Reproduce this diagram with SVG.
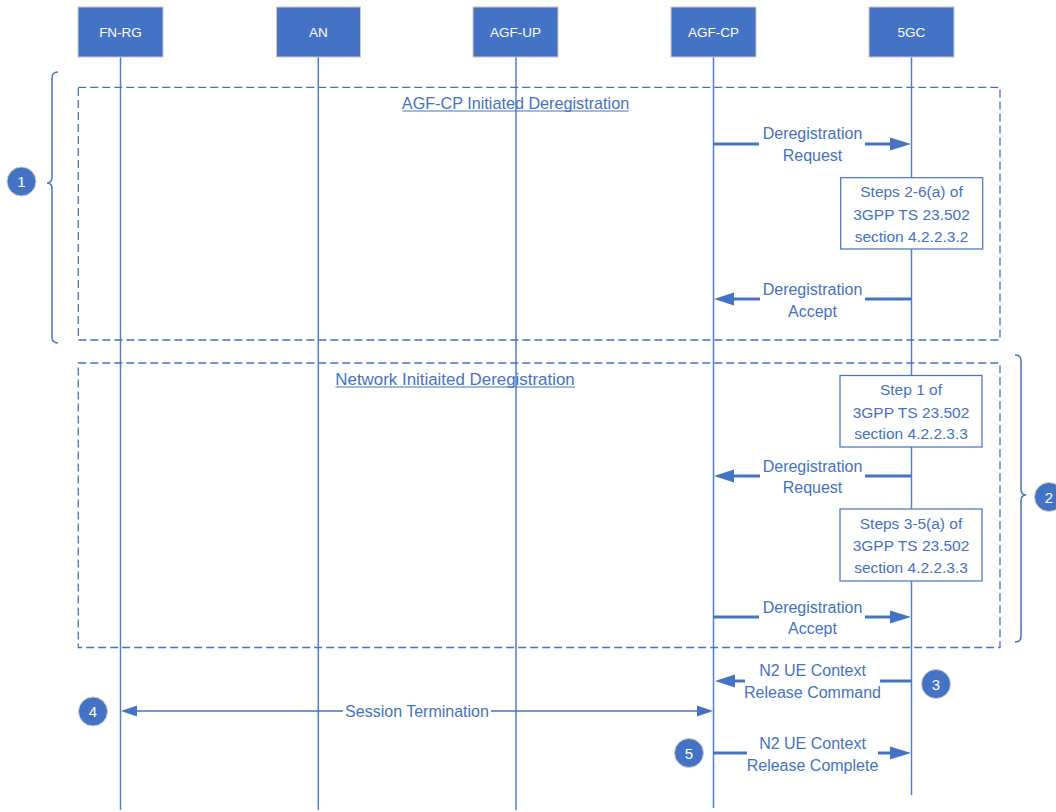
<svg xmlns="http://www.w3.org/2000/svg" width="1056" height="812" viewBox="0 0 1056 812">
<style>
.hdr{fill:#4472C4;stroke:#C9C9C9;stroke-width:1}
.hdrt{fill:#FFFFFF;font-family:"Liberation Sans",Arial,sans-serif;font-size:13.5px;text-anchor:middle}
.life{stroke:#4F7FD0;stroke-width:1.5;fill:none}
.grp{fill:none;stroke:#4472C4;stroke-width:1.3;stroke-dasharray:8 4}
.lbl{fill:#4472C4;font-family:"Liberation Sans",Arial,sans-serif;font-size:16px;text-anchor:middle}
.ttl{fill:#4472C4;font-family:"Liberation Sans",Arial,sans-serif;font-size:16.2px;text-anchor:middle}
.box{fill:#FFFFFF;stroke:#4472C4;stroke-width:1.2}
.bt{fill:#4472C4;font-family:"Liberation Sans",Arial,sans-serif;font-size:15.5px;text-anchor:middle}
.thick{stroke:#4472C4;stroke-width:3;fill:none}
.thin{stroke:#4472C4;stroke-width:1.5;fill:none}
.head{fill:#4472C4}
.brace{fill:none;stroke:#4472C4;stroke-width:1.5}
.num{fill:#4472C4;stroke:#D0D0D0;stroke-width:1}
.numt{fill:#FFFFFF;font-family:"Liberation Sans",Arial,sans-serif;font-size:15px;text-anchor:middle}
.ul{stroke:#4472C4;stroke-width:1}
</style>

<g id="lifelines">
<line class="life" x1="120.5" y1="57" x2="120.5" y2="810"/>
<line class="life" x1="318.3" y1="57" x2="318.3" y2="810"/>
<line class="life" x1="516" y1="57" x2="516" y2="810"/>
<line class="life" x1="713.5" y1="57" x2="713.5" y2="808"/>
<line class="life" x1="911.5" y1="57" x2="911.5" y2="795"/>
</g>

<g id="node-fnrg"><rect class="hdr" x="78" y="7" width="85" height="50"/><text class="hdrt" x="120.5" y="37">FN-RG</text></g>
<g id="node-an"><rect class="hdr" x="276.5" y="7" width="84" height="50"/><text class="hdrt" x="318.5" y="37">AN</text></g>
<g id="node-agfup"><rect class="hdr" x="473" y="7" width="85" height="50"/><text class="hdrt" x="515.5" y="37">AGF-UP</text></g>
<g id="node-agfcp"><rect class="hdr" x="671" y="7" width="85" height="50"/><text class="hdrt" x="713.5" y="37">AGF-CP</text></g>
<g id="node-5gc"><rect class="hdr" x="869" y="7" width="85" height="50"/><text class="hdrt" x="911.5" y="37">5GC</text></g>

<g id="group1">
<rect class="grp" x="78.3" y="87.3" width="921.7" height="252.7"/>
<text class="ttl" x="515.5" y="109">AGF-CP Initiated Deregistration</text>
<line class="ul" x1="402.5" y1="111" x2="628.5" y2="111"/>
</g>

<g id="group2">
<rect class="grp" x="78.3" y="363" width="921.7" height="284.5"/>
<text class="ttl" x="455" y="385" style="font-size:16.9px">Network Initiaited Deregistration</text>
<line class="ul" x1="335.5" y1="387" x2="575" y2="387"/>
</g>

<g id="step-box-1"><rect class="box" x="840.7" y="177.7" width="142" height="71.3"/>
<text class="bt" x="911.5" y="197">Steps 2-6(a) of</text>
<text class="bt" x="911.5" y="219.5">3GPP TS 23.502</text>
<text class="bt" x="911.5" y="241.5">section 4.2.2.3.2</text></g>

<g id="step-box-2"><rect class="box" x="840" y="375.5" width="142" height="71.5"/>
<text class="bt" x="911" y="395">Step 1 of</text>
<text class="bt" x="911" y="417.5">3GPP TS 23.502</text>
<text class="bt" x="911" y="438.5">section 4.2.2.3.3</text></g>

<g id="step-box-3"><rect class="box" x="840" y="509" width="142" height="72"/>
<text class="bt" x="911" y="528.5">Steps 3-5(a) of</text>
<text class="bt" x="911" y="551">3GPP TS 23.502</text>
<text class="bt" x="911" y="572.5">section 4.2.2.3.3</text></g>

<g id="connectors">
<!-- Deregistration Request 1 -->
<line class="thick" x1="713.5" y1="144" x2="759" y2="144"/>
<line class="thick" x1="865" y1="144" x2="892" y2="144"/>
<polygon class="head" points="890,137.5 911,144 890,150.5"/>
<text class="lbl" x="812.5" y="139">Deregistration</text>
<text class="lbl" x="812.5" y="161">Request</text>

<!-- Deregistration Accept 1 -->
<line class="thick" x1="911.5" y1="299" x2="865" y2="299"/>
<line class="thick" x1="760" y1="299" x2="732" y2="299"/>
<polygon class="head" points="734,292.5 714,299 734,305.5"/>
<text class="lbl" x="812.5" y="294.5">Deregistration</text>
<text class="lbl" x="812.5" y="316.5">Accept</text>

<!-- Deregistration Request 2 -->
<line class="thick" x1="911.5" y1="476" x2="865" y2="476"/>
<line class="thick" x1="760" y1="476" x2="732" y2="476"/>
<polygon class="head" points="734,469.5 714,476 734,482.5"/>
<text class="lbl" x="812.5" y="471.5">Deregistration</text>
<text class="lbl" x="812.5" y="493">Request</text>

<!-- Deregistration Accept 2 -->
<line class="thick" x1="713.5" y1="617" x2="759" y2="617"/>
<line class="thick" x1="865" y1="617" x2="892" y2="617"/>
<polygon class="head" points="890,610.5 911,617 890,623.5"/>
<text class="lbl" x="812.5" y="612.5">Deregistration</text>
<text class="lbl" x="812.5" y="634">Accept</text>

<!-- N2 UE Context Release Command -->
<line class="thick" x1="911.5" y1="681" x2="880" y2="681"/>
<line class="thick" x1="745" y1="681" x2="733" y2="681"/>
<polygon class="head" points="735,674.5 715,681 735,687.5"/>
<text class="lbl" x="812.5" y="676">N2 UE Context</text>
<text class="lbl" x="812.5" y="698">Release Command</text>

<!-- Session Termination -->
<line class="thin" x1="136" y1="711" x2="343" y2="711"/>
<line class="thin" x1="491" y1="711" x2="699" y2="711"/>
<polygon class="head" points="137,705.5 121,711 137,716.5"/>
<polygon class="head" points="697,705.5 713,711 697,716.5"/>
<text class="lbl" x="417" y="716.5">Session Termination</text>

<!-- N2 UE Context Release Complete -->
<line class="thick" x1="713.5" y1="753" x2="747" y2="753"/>
<line class="thick" x1="878" y1="753" x2="892" y2="753"/>
<polygon class="head" points="890,746.5 911,753 890,759.5"/>
<text class="lbl" x="812.5" y="749">N2 UE Context</text>
<text class="lbl" x="812.5" y="770.5">Release Complete</text>
</g>

<g id="brace-1"><path class="brace" d="M58,72 Q52,72 52,78 L52,177 Q52,183 47,183 Q52,183 52,189 L52,337 Q52,343 58,343"/></g>
<g id="brace-2"><path class="brace" d="M1015,355 Q1021,355 1021,361 L1021,489 Q1021,495 1026,495 Q1021,495 1021,501 L1021,636 Q1021,642 1015,642"/></g>

<g id="marker-1"><circle class="num" cx="21.5" cy="181.5" r="14.5"/><text class="numt" x="21.5" y="187">1</text></g>
<g id="marker-2"><circle class="num" cx="1049" cy="497" r="14.5"/><text class="numt" x="1049" y="502.5">2</text></g>
<g id="marker-3"><circle class="num" cx="936" cy="684" r="14.5"/><text class="numt" x="936" y="689.5">3</text></g>
<g id="marker-4"><circle class="num" cx="93" cy="711.5" r="14.5"/><text class="numt" x="93" y="717">4</text></g>
<g id="marker-5"><circle class="num" cx="689" cy="753" r="14.5"/><text class="numt" x="689" y="758.5">5</text></g>
</svg>
